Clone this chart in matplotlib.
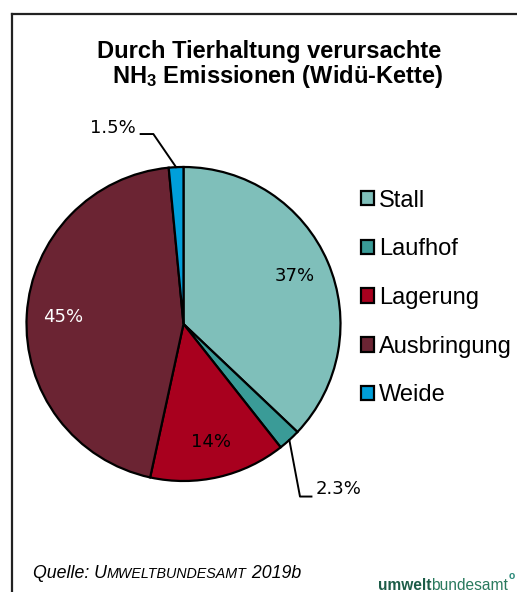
import matplotlib
matplotlib.use('Agg')
import numpy as np
import matplotlib.pyplot as plt
from matplotlib.lines import Line2D

# Daten
categories = ['Stall', 'Laufhof', 'Lagerung', 'Ausbringung', 'Weide']
shares = [37, 2.3, 14, 45, 1.5]
share_labels = ['37%', '2.3%', '14%', '45%', '1.5%']
colors = ['#7fbfba', '#3a9b97', '#a8001e', '#6b2433', '#009fda']
inner_text_colors = ['black', None, 'black', 'white', None]

plt.rcParams['font.family'] = ['Liberation Sans', 'DejaVu Sans']
plt.rcParams['mathtext.fontset'] = 'custom'
plt.rcParams['mathtext.rm'] = 'Liberation Sans:bold'
plt.rcParams['mathtext.default'] = 'rm'

W, H = 517, 592
fig = plt.figure(figsize=(W / 100, H / 100), dpi=100)


def fx(px):
    return px / W


def fy(py):
    return 1 - py / H


# Rahmen links und oben
fig.add_artist(Line2D([fx(12), fx(12)], [fy(13.5), 0], color='#222222', lw=1.6))
fig.add_artist(Line2D([fx(12), 1], [fy(13.5), fy(13.5)], color='#222222', lw=1.6))

# Kreisdiagramm
cx, cy, r = 183.5, 324, 157
ax = fig.add_axes([fx(cx - r), fy(cy + r), 2 * r / W, 2 * r / H])
wedges, _ = ax.pie(shares, colors=colors, startangle=90, counterclock=False,
                   wedgeprops=dict(edgecolor='black', linewidth=1.6))
ax.set_xlim(-1, 1)
ax.set_ylim(-1, 1)
ax.axis('off')

# Beschriftungen in den Segmenten
for w, lab, c in zip(wedges, share_labels, inner_text_colors):
    if c is None:
        continue
    ang = np.deg2rad((w.theta1 + w.theta2) / 2)
    ax.text(0.77 * np.cos(ang), 0.77 * np.sin(ang), lab, ha='center', va='center',
            fontsize=13, color=c, family='DejaVu Sans')

# Beschriftungen mit Hinweislinie
def edge_point(w):
    ang = np.deg2rad((w.theta1 + w.theta2) / 2)
    return np.cos(ang), np.sin(ang)

ex, ey = edge_point(wedges[4])
ax.plot([ex, -0.192, -0.273], [ey, 1.210, 1.210], color='black', lw=1.4, clip_on=False)
ax.text(-0.303, 1.248, share_labels[4], ha='right', va='center', fontsize=13,
        family='DejaVu Sans')

ex, ey = edge_point(wedges[1])
ax.plot([ex, 0.742, 0.815], [ey, -1.099, -1.099], color='black', lw=1.4, clip_on=False)
ax.text(0.844, -1.051, share_labels[1], ha='left', va='center', fontsize=13,
        family='DejaVu Sans')

# Legende
fig.legend(wedges, categories, loc='center left', bbox_to_anchor=(fx(361), fy(298)),
           frameon=False, fontsize=17, handlelength=0.56, handleheight=0.56,
           handletextpad=0.2, labelspacing=1.13, borderpad=0, borderaxespad=0)

# Titel
fig.text(fx(269.5), fy(58), 'Durch Tierhaltung verursachte', ha='center', va='baseline',
         fontsize=17, weight='bold')
fig.text(fx(277.5), fy(83), r'NH$_3$ Emissionen (Widü-Kette)', ha='center', va='baseline',
         fontsize=17, weight='bold')

# Quelle (Kapitälchen nachgebildet)
renderer = fig.canvas.get_renderer()
x = 33
for s, size in [('Quelle: U', 12.8), ('MWELTBUNDESAMT', 10.3), (' 2019b', 12.8)]:
    t = fig.text(fx(x), fy(578), s, fontsize=size, style='italic', va='baseline')
    x = t.get_window_extent(renderer).x1

# Logo
t = fig.text(fx(378), fy(590), 'umwelt', fontsize=11.2, weight='bold', color='#1d5c48',
             va='baseline')
x = t.get_window_extent(renderer).x1
t = fig.text(fx(x), fy(590), 'bundesamt', fontsize=11.2, color='#2a7a5e', va='baseline')
x = t.get_window_extent(renderer).x1
fig.text(fx(x + 0.5), fy(579), 'o', fontsize=7.5, weight='bold', color='#2a8a7a', va='baseline')

fig.savefig('out.png', dpi=100)
